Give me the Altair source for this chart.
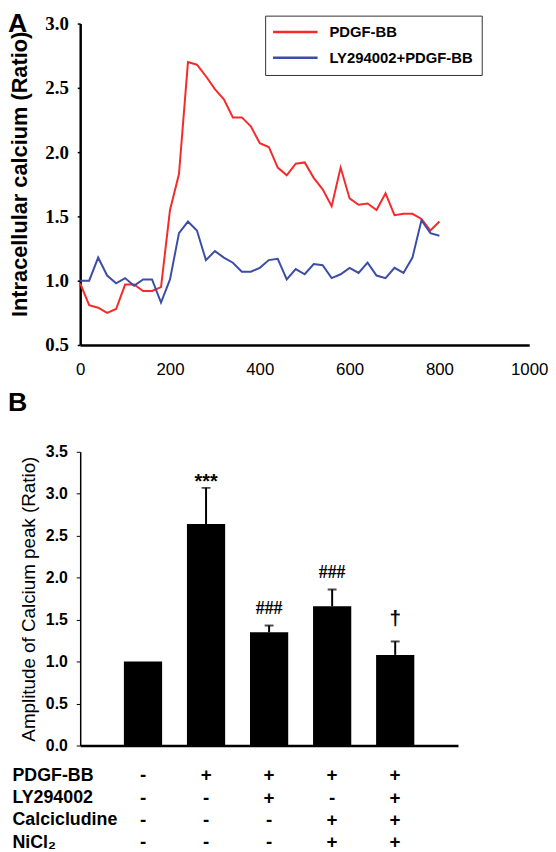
import altair as alt
import pandas as pd

SANS = "Liberation Sans"
SERIF = "Liberation Serif"

# ---------------- Panel A data ----------------
time_s = [0, 20, 40, 60, 80, 100, 120, 140, 160, 180, 200, 220, 240, 260, 280, 300,
          320, 340, 360, 380, 400, 420, 440, 460, 480, 500, 520, 540, 560, 580, 600,
          620, 640, 660, 680, 700, 720, 740, 760, 780, 800]
pdgf_bb = [0.98, 0.81, 0.79, 0.75, 0.78, 0.97, 0.97, 0.92, 0.92, 0.95, 1.55, 1.83,
           2.70, 2.68, 2.59, 2.49, 2.41, 2.27, 2.27, 2.20, 2.07, 2.04, 1.88, 1.82,
           1.91, 1.92, 1.80, 1.71, 1.58, 1.88, 1.64, 1.59, 1.60, 1.55, 1.68, 1.51,
           1.52, 1.52, 1.48, 1.39, 1.46]
ly_pdgf = [1.00, 1.00, 1.18, 1.04, 0.98, 1.02, 0.96, 1.01, 1.01, 0.83, 1.01, 1.37,
           1.46, 1.39, 1.16, 1.23, 1.18, 1.14, 1.07, 1.07, 1.10, 1.16, 1.17, 1.01,
           1.09, 1.05, 1.13, 1.12, 1.02, 1.05, 1.10, 1.06, 1.14, 1.04, 1.02, 1.10,
           1.06, 1.18, 1.47, 1.37, 1.35]
series_names = ["PDGF-BB", "LY294002+PDGF-BB"]
series_colors = ["#F52A2A", "#3B4DA6"]
x_ticks_a = [0, 200, 400, 600, 800, 1000]
y_ticks_a = [0.5, 1.0, 1.5, 2.0, 2.5, 3.0]

# ---------------- Panel B data ----------------
groups = ["Control", "PDGF-BB", "PDGF-BB+LY294002",
          "PDGF-BB+Calcicludine+NiCl2", "PDGF-BB+LY294002+Calcicludine+NiCl2"]
amplitude = [1.00, 2.64, 1.35, 1.66, 1.08]
error = [0.00, 0.43, 0.08, 0.20, 0.16]
sig_marks = ["", "***", "###", "###", "\u2020"]
sig_kind = ["none", "star", "hash", "hash", "dagger"]
y_ticks_b = [0.0, 0.5, 1.0, 1.5, 2.0, 2.5, 3.0, 3.5]

treatments = ["PDGF-BB", "LY294002", "Calcicludine", "NiCl\u2082"]
signs = [
    ["-", "+", "+", "+", "+"],
    ["-", "-", "+", "-", "+"],
    ["-", "-", "-", "+", "+"],
    ["-", "-", "-", "+", "+"],
]
panel_letters = ["A", "B"]

# ---------------- Panel A ----------------
dfA = pd.DataFrame({
    "t": time_s * 2,
    "ratio": pdgf_bb + ly_pdgf,
    "series": [series_names[0]] * len(time_s) + [series_names[1]] * len(time_s),
})

linesA = alt.Chart(dfA).mark_line(strokeWidth=2).encode(
    x=alt.X("t:Q", scale=alt.Scale(domain=[0, 1000], nice=False),
            axis=alt.Axis(values=x_ticks_a, format="d", title=None, grid=False,
                          ticks=False, labelPadding=17, labelFont=SANS,
                          labelFontSize=17, labelColor="black", labelFlush=False,
                          domainColor="black", domainWidth=2.5)),
    y=alt.Y("ratio:Q", scale=alt.Scale(domain=[0.5, 3.0], nice=False, zero=False),
            axis=alt.Axis(values=y_ticks_a, format=".1f", grid=False,
                          title="Intracellular calcium (Ratio)",
                          titleFont=SANS, titleFontSize=22, titleFontWeight="bold",
                          titleColor="black", titleX=-61, titleY=152,
                          titleBaseline="middle",
                          labelFont=SERIF, labelFontSize=19, labelFontWeight="bold",
                          labelColor="black", labelPadding=9, labelFlush=False,
                          tickSize=3, tickColor="black", tickWidth=1.5,
                          domainColor="black", domainWidth=2.5)),
    color=alt.Color("series:N", sort=series_names,
                    scale=alt.Scale(domain=series_names, range=series_colors),
                    legend=alt.Legend(title=None, orient="none", legendX=187, legendY=-8,
                                      direction="vertical", symbolType="M-5,0L5,0",
                                      symbolSize=81, symbolStrokeWidth=2.5,
                                      symbolOffset=14, labelOffset=27,
                                      labelFont=SANS, labelFontSize=15,
                                      labelFontWeight="bold", labelColor="black",
                                      padding=9, rowPadding=10,
                                      strokeColor="#333333", fillColor="white")),
)

letterA = alt.Chart(pd.DataFrame({"panel": [panel_letters[0]]})).mark_text(
    align="left", baseline="top", font=SANS, fontSize=27, fontWeight="bold",
    color="black").encode(text="panel:N", x=alt.value(-73), y=alt.value(-12))

panelA = alt.layer(linesA, letterA).properties(width=454, height=325)

# ---------------- Panel B ----------------
dfB = pd.DataFrame({
    "group": groups,
    "amp": amplitude,
    "err": error,
    "top": [a + e for a, e in zip(amplitude, error)],
    "mark": sig_marks,
    "kind": sig_kind,
})

xB = alt.X("group:N", sort=groups,
           scale=alt.Scale(type="band", paddingInner=0.394, paddingOuter=0.693),
           axis=alt.Axis(title=None, labels=False, ticks=False,
                         domainColor="black", domainWidth=2.5))

baseB = alt.Chart(dfB)

bars = baseB.mark_bar(color="black").encode(
    x=xB,
    y=alt.Y("amp:Q", scale=alt.Scale(domain=[0, 3.5], nice=False),
            axis=alt.Axis(values=y_ticks_b, format=".1f", grid=False,
                          title="Amplitude of Calcium peak (Ratio)",
                          titleFont=SANS, titleFontSize=19, titleFontWeight="normal",
                          titleColor="black", titleX=-52, titleBaseline="middle",
                          labelFont=SANS, labelFontSize=16, labelFontWeight="bold",
                          labelColor="black", labelPadding=9, labelFlush=False,
                          tickSize=4, tickColor="black", tickWidth=1,
                          domainColor="black", domainWidth=1.5)),
)

err_rule = baseB.transform_filter("datum.err > 0").mark_rule(
    color="black", strokeWidth=2).encode(x=xB, y="amp:Q", y2="top:Q")

err_cap = baseB.transform_filter("datum.err > 0").mark_tick(
    color="black", thickness=2, size=9, orient="horizontal").encode(x=xB, y="top:Q")

txt_star = baseB.transform_filter("datum.kind == 'star'").mark_text(
    font=SANS, fontSize=20, fontWeight="bold", color="black",
    baseline="alphabetic", dy=0).encode(x=xB, y="top:Q", text="mark:N")

txt_hash = baseB.transform_filter("datum.kind == 'hash'").mark_text(
    font=SERIF, fontSize=18, fontWeight="bold", color="black",
    baseline="alphabetic", dy=-12).encode(x=xB, y="top:Q", text="mark:N")

txt_dag = baseB.transform_filter("datum.kind == 'dagger'").mark_text(
    font=SANS, fontSize=21, fontWeight="bold", color="black",
    baseline="alphabetic", dy=-17).encode(x=xB, y="top:Q", text="mark:N")

letterB = alt.Chart(pd.DataFrame({"panel": [panel_letters[1]]})).mark_text(
    align="left", baseline="top", font=SANS, fontSize=27, fontWeight="bold",
    color="black").encode(text="panel:N", x=alt.value(-73), y=alt.value(-62))

panelB = alt.layer(bars, err_rule, err_cap, txt_star, txt_hash, txt_dag, letterB).properties(
    width=382, height=297)

# ---------------- Treatment table ----------------
rows = []
for ti, tname in enumerate(treatments):
    for gi, g in enumerate(groups):
        rows.append({"group": g, "treatment": tname, "sign": signs[ti][gi]})
dfT = pd.DataFrame(rows)

table = alt.Chart(dfT).mark_text(font=SANS, fontSize=19, fontWeight="bold",
                                 color="black").encode(
    x=alt.X("group:N", sort=groups,
            scale=alt.Scale(type="point", padding=1.0), axis=None),
    y=alt.Y("treatment:N", sort=treatments,
            scale=alt.Scale(type="point", padding=0.5),
            axis=alt.Axis(title=None, domain=False, ticks=False, labelAlign="left",
                          labelPadding=69, labelFont=SANS, labelFontSize=18,
                          labelFontWeight="bold", labelColor="black",
                          labelBaseline="middle")),
    text="sign:N",
).properties(width=382, height=90)

lower = alt.vconcat(panelB, table, spacing=11).resolve_scale(x="independent", y="independent")

chart = alt.vconcat(panelA, lower, spacing=12).resolve_scale(
    x="independent", y="independent", color="independent"
).configure(
    background="white",
    padding={"top": -2, "left": 0, "right": 0, "bottom": 0},
    view=alt.ViewConfig(stroke="transparent", strokeWidth=0),
)

chart.save("out.html", embed_options={"renderer": "svg", "actions": False})
